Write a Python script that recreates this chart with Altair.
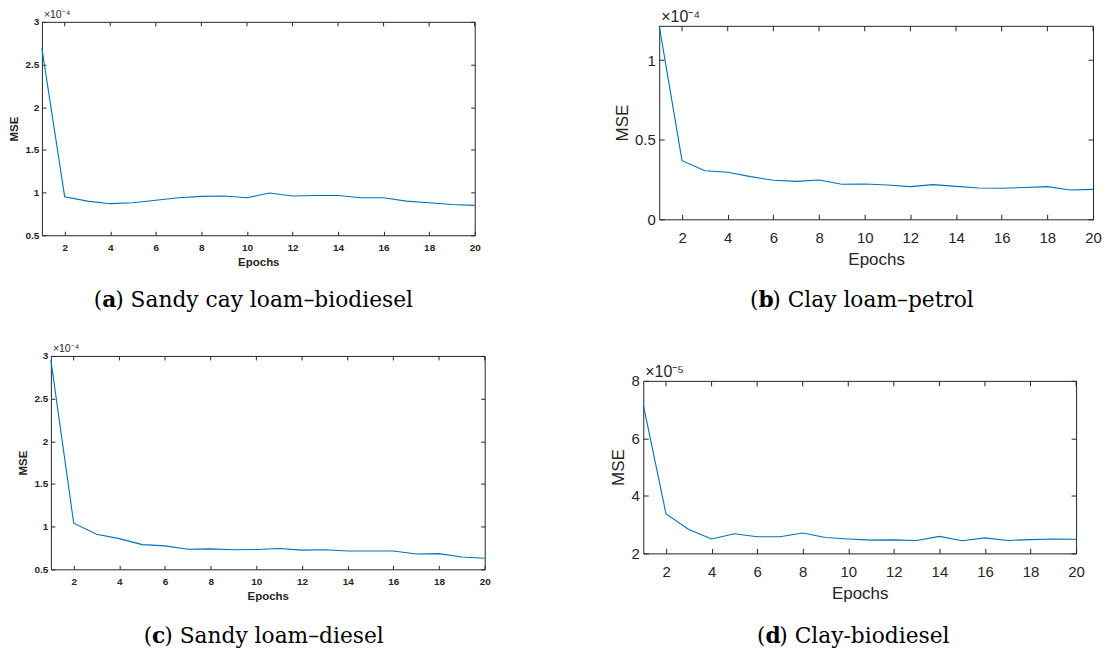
import altair as alt
import pandas as pd

# ---------------- data (values shown in the scaled units of each panel) -------------
epochs = list(range(1, 21))
x_ticks = [2, 4, 6, 8, 10, 12, 14, 16, 18, 20]

# (a) Sandy cay loam–biodiesel, x1e-4
mse_a = [2.69, 0.95, 0.90, 0.87, 0.88, 0.91, 0.94, 0.955, 0.96, 0.94,
         0.995, 0.96, 0.965, 0.965, 0.94, 0.94, 0.90, 0.88, 0.86, 0.85]
# (b) Clay loam–petrol, x1e-4
mse_b = [1.215, 0.368, 0.305, 0.295, 0.268, 0.245, 0.238, 0.247, 0.22, 0.222,
         0.215, 0.205, 0.218, 0.207, 0.197, 0.195, 0.20, 0.205, 0.184, 0.188]
# (c) Sandy loam–diesel, x1e-4
mse_c = [2.95, 1.04, 0.91, 0.86, 0.79, 0.775, 0.735, 0.74, 0.73, 0.733,
         0.745, 0.725, 0.73, 0.715, 0.715, 0.715, 0.68, 0.684, 0.645, 0.63]
# (d) Clay-biodiesel, x1e-5
mse_d = [7.17, 3.37, 2.83, 2.50, 2.68, 2.58, 2.58, 2.71, 2.55, 2.50,
         2.46, 2.47, 2.45, 2.59, 2.44, 2.54, 2.45, 2.48, 2.50, 2.49]

y_domain_a = [0.5, 3.0]
y_ticks_a = [0.5, 1, 1.5, 2, 2.5, 3]
y_domain_b = [0, 1.215]
y_ticks_b = [0, 0.5, 1]
y_domain_c = [0.5, 3.0]
y_ticks_c = [0.5, 1, 1.5, 2, 2.5, 3]
y_domain_d = [2, 8]
y_ticks_d = [2, 4, 6, 8]

exp_a = "×10⁻⁴"
exp_b = "×10⁻⁴"
exp_c = "×10⁻⁴"
exp_d = "×10⁻⁵"

# caption parts: "(", bold letter, rest
cap_a = ["(", "a", ") Sandy cay loam–biodiesel"]
cap_b = ["(", "b", ") Clay loam–petrol"]
cap_c = ["(", "c", ") Sandy loam–diesel"]
cap_d = ["(", "d", ") Clay-biodiesel"]

LINE = "#0072BD"
AX = "#262626"
CAP_FONT = "DejaVu Serif"
CAP_SIZE = 21.8
LETTER_W = {"a": 13.0, "b": 13.9, "c": 12.2, "d": 13.9}
PAREN_W = 8.5

STYLES = {
    "small": dict(lab=10, labw="bold", tit=11.5, titw="bold", tick=4, exp=10.5, expw="normal",
                  lpad_x=11, lpad_y=7, tpad_x=4, tpad_y=6),
    "large": dict(lab=15, labw="normal", tit=17, titw="normal", tick=5, exp=16, expw="normal",
                  lpad_x=16, lpad_y=9, tpad_x=6, tpad_y=3),
}
EXP_DY = 12


def panel(values, ydom, yticks, style, exp_text, cap, w, h, inset_l, inset_t, cap_x, cap_y):
    """Panel whose plot frame starts inset_l px right and inset_t px below its grid cell."""
    s = STYLES[style]
    df = pd.DataFrame({"Epochs": epochs, "MSE": values})
    xs = alt.Scale(domain=[1, 20], nice=False, zero=False, range=[inset_l, w])
    ys = alt.Scale(domain=ydom, nice=False, zero=False, range=[h, inset_t])
    common = dict(
        domain=True, domainColor=AX, domainWidth=1, grid=False,
        ticks=True, tickColor=AX, tickWidth=1, tickSize=alt.ExprRef(expr=str(-s["tick"])),
        labelFlush=False, labelOverlap=False, format="~g",
        labelFont="Liberation Sans", labelFontSize=s["lab"], labelFontWeight=s["labw"], labelColor=AX,
        titleFont="Liberation Sans", titleFontSize=s["tit"], titleFontWeight=s["titw"], titleColor=AX,
    )
    main = alt.Chart(df).mark_line(color=LINE, strokeWidth=1.1).encode(
        x=alt.X("Epochs:Q", scale=xs,
                axis=alt.Axis(values=x_ticks, orient="bottom", title="Epochs",
                              labelPadding=s["lpad_x"], titlePadding=s["tpad_x"], **common)),
        y=alt.Y("MSE:Q", scale=ys,
                axis=alt.Axis(values=yticks, orient="left", title="MSE", offset=-inset_l,
                              labelPadding=s["lpad_y"], titlePadding=s["tpad_y"], **common)),
    )
    # right-hand frame edge with inward ticks
    dup = alt.Chart(df).mark_line(strokeOpacity=0).encode(
        x=alt.X("Epochs:Q", scale=xs, axis=None),
        y=alt.Y("MSE:Q", scale=ys,
                axis=alt.Axis(values=yticks, orient="right", title=None, labels=False, **common)),
    )
    # top frame edge and its inward ticks (positions from the x scale)
    top_y = inset_t + 0.5
    top_edge = alt.Chart(pd.DataFrame({"e": [0]})).mark_rule(color=AX, strokeWidth=1).encode(
        x=alt.value(inset_l + 0.5), x2=alt.value(w + 0.5), y=alt.value(top_y))
    top_ticks = alt.Chart(pd.DataFrame({"tick": x_ticks})).mark_rule(color=AX, strokeWidth=1).encode(
        x=alt.X("tick:Q", scale=xs, axis=None),
        y=alt.value(top_y), y2=alt.value(top_y + s["tick"]))
    lw = LETTER_W[cap[1]]
    txt = dict(font=CAP_FONT, fontSize=CAP_SIZE, align="left", baseline="alphabetic", color="black")
    p1 = alt.Chart(pd.DataFrame({"t": [cap[0]]})).mark_text(**txt).encode(
        text="t:N", x=alt.value(cap_x), y=alt.value(cap_y))
    p2 = alt.Chart(pd.DataFrame({"t": [cap[1]]})).mark_text(fontWeight="bold", **txt).encode(
        text="t:N", x=alt.value(cap_x + PAREN_W), y=alt.value(cap_y))
    p3 = alt.Chart(pd.DataFrame({"t": [cap[2]]})).mark_text(**txt).encode(
        text="t:N", x=alt.value(cap_x + PAREN_W + lw), y=alt.value(cap_y))
    return alt.layer(main, dup, top_edge, top_ticks, p1, p2, p3).resolve_axis(
        x="independent", y="independent").properties(
        width=w, height=h,
        title=alt.Title(exp_text, anchor="start", orient="top", frame="group", offset=0,
                        baseline="alphabetic", dx=inset_l + 2, dy=inset_t + EXP_DY,
                        font="Liberation Sans", fontSize=s["exp"], fontWeight=s["expw"], color=AX),
    )


pa = panel(mse_a, y_domain_a, y_ticks_a, "small", exp_a, cap_a, 434, 214, 0, 0, 52, 286)
pb = panel(mse_b, y_domain_b, y_ticks_b, "large", exp_b, cap_b, 451, 198, 16, 4, 107, 286)
pc = panel(mse_c, y_domain_c, y_ticks_c, "small", exp_c, cap_c, 444, 214, 9, 0, 102, 288)
pd_ = panel(mse_d, y_domain_d, y_ticks_d, "large", exp_d, cap_d, 434, 198, 0, 25, 114, 288)

chart = alt.concat(pa, pb, pc, pd_, columns=2, align="each", bounds="flush",
                   spacing={"row": 121, "column": 159}).properties(
    padding={"left": 0, "top": 0, "right": 0, "bottom": 0},
).configure(background="white").configure_view(stroke="transparent", strokeWidth=0)

chart.save("out.html", embed_options={"renderer": "svg", "actions": False})
